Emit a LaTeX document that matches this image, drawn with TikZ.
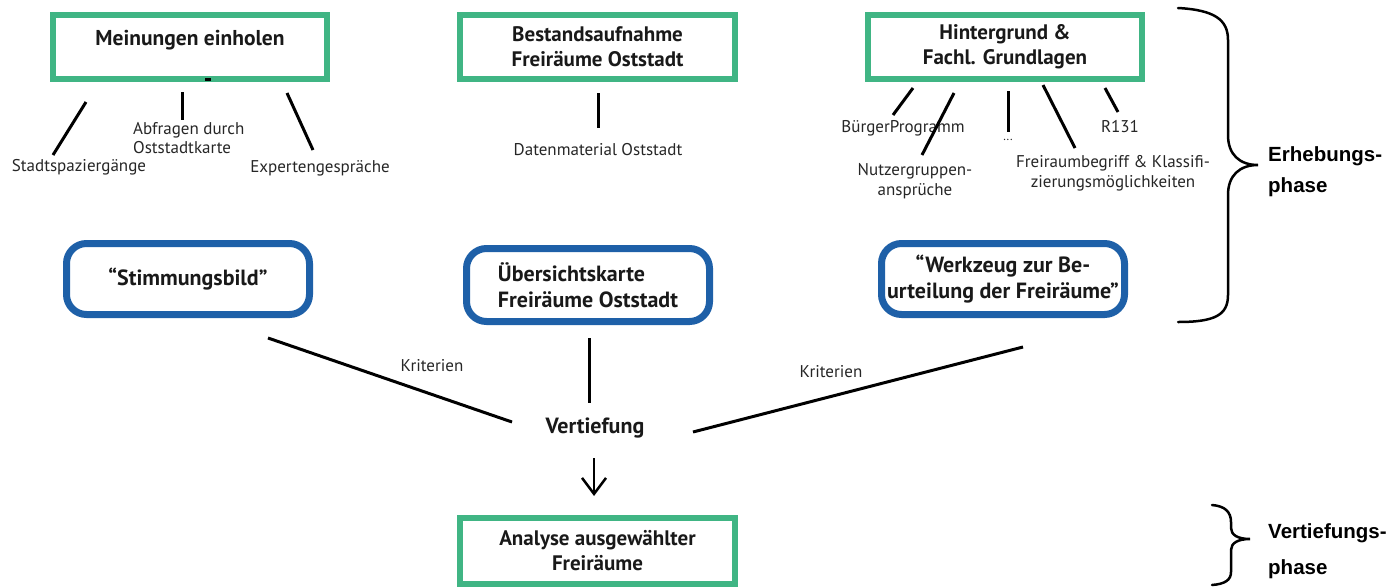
\documentclass[tikz,border=0pt]{standalone}
\usepackage{fontspec}
\setmainfont{PT Sans}
\newfontfamily\phasefont{Liberation Sans}
\usetikzlibrary{arrows.meta, positioning}
\definecolor{boxgreen}{RGB}{64,181,132}
\definecolor{boxblue}{RGB}{30,96,168}
\tikzset{
  gbox/.style={draw=boxgreen, line width=6pt, minimum width=274pt, minimum height=64pt,
    inner sep=0pt, align=center, text=black!90, font=\bfseries\fontsize{21}{25}\selectfont},
  bbox/.style={draw=boxblue, line width=7pt, rounded corners=20pt, minimum width=243pt,
    minimum height=71pt, inner sep=0pt, align=center, text=black!90, font=\bfseries\fontsize{22}{26}\selectfont},
  sub/.style={inner sep=0pt, align=center, text=black!85, font=\fontsize{17}{19.5}\selectfont},
  conn/.style={line width=3pt},
  phase/.style={inner sep=0pt, align=left, anchor=west, font=\phasefont\bfseries\fontsize{20.5}{31}\selectfont},
  brace/.style={line width=2.5pt, line cap=round}
}
\begin{document}
\begin{tikzpicture}[x=1pt, y=-1pt]
  \useasboundingbox (0,0) rectangle (1397,587);
  % Erhebungsphase: three sources
  \node[gbox, text height=13pt, text depth=16pt, font=\bfseries\fontsize{21.5}{25}\selectfont] (M) at (190,47) {Meinungen einholen};
  \node[gbox, minimum width=275pt] (B) at (597.5,47) {Bestandsaufnahme\\Freiräume Oststadt};
  \node[gbox] (H) at (1005,47) {Hintergrund \&\\Fachl. Grundlagen};
  \draw[line width=3pt] (205,79) -- (211,79);
  % Meinungen einholen
  \node[sub] (m1) at (79,167) {Stadtspaziergänge};
  \node[sub, align=left, anchor=west] (m2) at (133,138) {Abfragen durch\\Oststadtkarte};
  \node[sub] (m3) at (320,168) {Expertengespräche};
  \coordinate (m1a) at (86,102);  \coordinate (m1b) at (53,155);
  \coordinate (m2a) at (182,92);  \coordinate (m2b) at (182,120);
  \coordinate (m3a) at (287,93);  \coordinate (m3b) at (313,150);
  \draw[conn] (m1a) -- (m1b);
  \draw[conn] (m2a) -- (m2b);
  \draw[conn] (m3a) -- (m3b);
  % Bestandsaufnahme
  \node[sub] (b1) at (598,150) {Datenmaterial Oststadt};
  \coordinate (b1a) at (598,93);  \coordinate (b1b) at (598,128);
  \draw[conn] (b1a) -- (b1b);
  % Hintergrund
  \node[sub] (h1) at (903,128) {BürgerProgramm};
  \node[sub] (h2) at (915,181) {Nutzergruppen-\\ansprüche};
  \node[sub, font=\fontsize{12}{14}\selectfont] (h3) at (1008,140) {...};
  \node[sub] (h4) at (1113,173) {Freiraumbegriff \& Klassifi-\\zierungsmöglichkeiten};
  \node[sub] (h5) at (1120,127) {R131};
  \coordinate (h1a) at (913,88);   \coordinate (h1b) at (893,115);
  \coordinate (h2a) at (954,93);   \coordinate (h2b) at (922,155);
  \coordinate (h3a) at (1008,91);  \coordinate (h3b) at (1008,132);
  \coordinate (h4a) at (1043,85);  \coordinate (h4b) at (1075,148);
  \coordinate (h5a) at (1105,88);  \coordinate (h5b) at (1118,112);
  \foreach \i in {1,...,5}
    \draw[conn] (h\i a) -- (h\i b);
  % Ergebnisse
  \node[bbox] (S) at (188,279) {“Stimmungsbild”};
  \node[bbox, align=left, minimum height=73pt] (U) at (588,285) {Übersichtskarte\\Freiräume Oststadt};
  \node[bbox] (W) at (1003,279) {“Werkzeug zur Be-\\urteilung der Freiräume”};
  % Vertiefung
  \node[inner sep=0pt, text=black!90, font=\bfseries\fontsize{22}{26}\selectfont] (V) at (595,428) {Vertiefung};
  \coordinate (s1) at (268,338);  \coordinate (s2) at (512,422);
  \coordinate (u1) at (589,338);  \coordinate (u2) at (589,403);
  \coordinate (w1) at (1023,347); \coordinate (w2) at (693,432);
  \draw[conn] (s1) -- (s2);
  \draw[conn] (u1) -- (u2);
  \draw[conn] (w1) -- (w2);
  \node[sub] (k1) at (432,366) {Kriterien};
  \node[sub] (k2) at (831,372) {Kriterien};
  % Vertiefungsphase
  \node[gbox, minimum width=275pt, minimum height=66pt] (A) at (597.5,551) {Analyse ausgewählter\\Freiräume};
  \coordinate (a1) at (594,458);
  \coordinate (a2) at (594,496);
  \draw[line width=2.5pt, -{Straight Barb[length=16pt, width=24pt, line width=2.5pt]}] (a1) -- (a2);
  % Phasen
  \draw[brace] (1178,8) .. controls (1215,10) and (1228,20) .. (1228,40) -- (1228,135)
    .. controls (1228,155) and (1240,165) .. (1258,165)
    .. controls (1240,165) and (1228,175) .. (1228,195) -- (1228,295)
    .. controls (1228,315) and (1215,322) .. (1178,322);
  \node[phase] (E) at (1268,172) {Erhebungs-\\phase};
  \draw[brace] (1212,505) .. controls (1225,506) and (1231,512) .. (1231,522) -- (1231,528)
    .. controls (1231,535) and (1238,539) .. (1250,539)
    .. controls (1238,539) and (1231,543) .. (1231,550) -- (1231,572)
    .. controls (1231,580) and (1225,584) .. (1212,585);
  \node[phase, font=\phasefont\bfseries\fontsize{20.5}{36}\selectfont] (P) at (1268,551) {Vertiefungs-\\phase};
\end{tikzpicture}
\end{document}
